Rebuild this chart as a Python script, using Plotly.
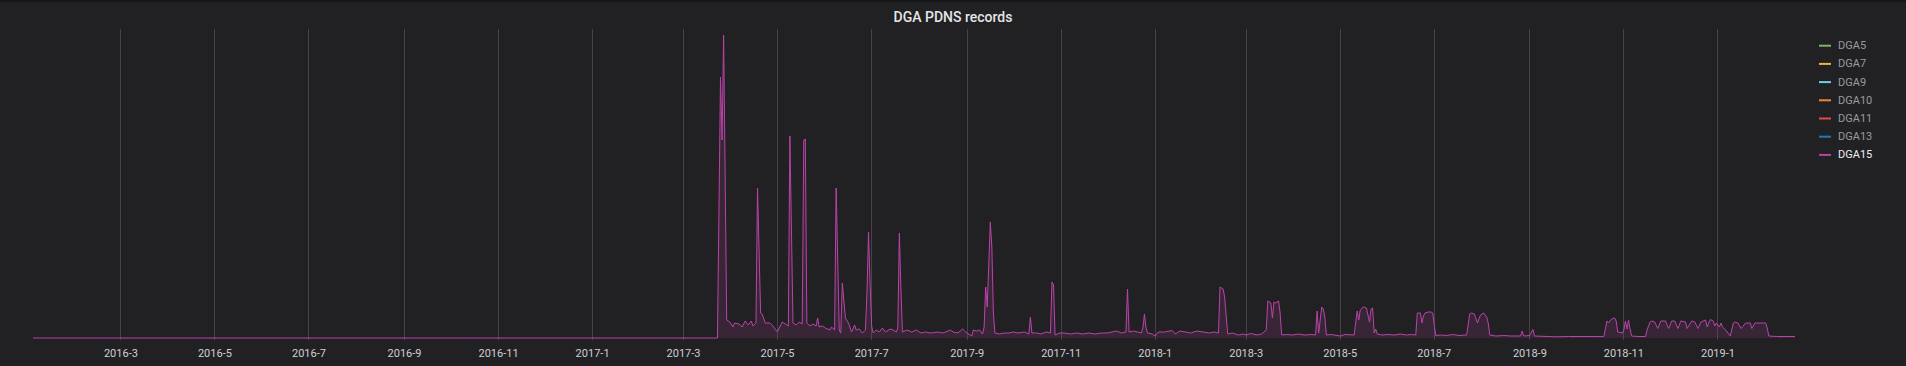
import plotly.graph_objects as go

# ---------------- data ----------------
dates = [
    "2016-01-04", "2017-03-23",
    "2017-03-25", "2017-03-26", "2017-03-27", "2017-03-29", "2017-03-31",
    "2017-04-02", "2017-04-03", "2017-04-06", "2017-04-08", "2017-04-10", "2017-04-12", "2017-04-14",
    "2017-04-15", "2017-04-17", "2017-04-18", "2017-04-20", "2017-04-21", "2017-04-23", "2017-04-26",
    "2017-04-28", "2017-04-30",
    "2017-05-01", "2017-05-04", "2017-05-07", "2017-05-08", "2017-05-09", "2017-05-11", "2017-05-13",
    "2017-05-15", "2017-05-17", "2017-05-18", "2017-05-19", "2017-05-20", "2017-05-22", "2017-05-24",
    "2017-05-26", "2017-05-27", "2017-05-28", "2017-05-30",
    "2017-06-01", "2017-06-04", "2017-06-05", "2017-06-07", "2017-06-08", "2017-06-10", "2017-06-11",
    "2017-06-12", "2017-06-14", "2017-06-16", "2017-06-18", "2017-06-20", "2017-06-21", "2017-06-23",
    "2017-06-25", "2017-06-27", "2017-06-28", "2017-06-29", "2017-06-30",
    "2017-07-01", "2017-07-02", "2017-07-04", "2017-07-06", "2017-07-08", "2017-07-10", "2017-07-13",
    "2017-07-15", "2017-07-17", "2017-07-18", "2017-07-19", "2017-07-20", "2017-07-21", "2017-07-24",
    "2017-07-27", "2017-07-30",
    "2017-08-02", "2017-08-05", "2017-08-08", "2017-08-13", "2017-08-16", "2017-08-18", "2017-08-21",
    "2017-08-23", "2017-08-26", "2017-08-29", "2017-08-31",
    "2017-09-04", "2017-09-05", "2017-09-07", "2017-09-09", "2017-09-11", "2017-09-12", "2017-09-13",
    "2017-09-14", "2017-09-16", "2017-09-17", "2017-09-18", "2017-09-19", "2017-09-22", "2017-09-25",
    "2017-09-28",
    "2017-10-01", "2017-10-04", "2017-10-08", "2017-10-11", "2017-10-12", "2017-10-13", "2017-10-16",
    "2017-10-19", "2017-10-22", "2017-10-25", "2017-10-26", "2017-10-27", "2017-10-28", "2017-10-31",
    "2017-11-03", "2017-11-07", "2017-11-11", "2017-11-15", "2017-11-19", "2017-11-23", "2017-11-27",
    "2017-12-01", "2017-12-04", "2017-12-07", "2017-12-10", "2017-12-13", "2017-12-14", "2017-12-15",
    "2017-12-18", "2017-12-20", "2017-12-23", "2017-12-24", "2017-12-25", "2017-12-26", "2017-12-27",
    "2017-12-30",
    "2018-01-01", "2018-01-03", "2018-01-07", "2018-01-12", "2018-01-14", "2018-01-17", "2018-01-20",
    "2018-01-24", "2018-01-28",
    "2018-02-01", "2018-02-05", "2018-02-08", "2018-02-11", "2018-02-12", "2018-02-13", "2018-02-14",
    "2018-02-15", "2018-02-16", "2018-02-17", "2018-02-20", "2018-02-24", "2018-02-27",
    "2018-03-01", "2018-03-04", "2018-03-08", "2018-03-11", "2018-03-14", "2018-03-15", "2018-03-17",
    "2018-03-18", "2018-03-19", "2018-03-20", "2018-03-22", "2018-03-23", "2018-03-24", "2018-03-27",
    "2018-03-31",
    "2018-04-04", "2018-04-08", "2018-04-12", "2018-04-15", "2018-04-16", "2018-04-17", "2018-04-19",
    "2018-04-20", "2018-04-21", "2018-04-22", "2018-04-25", "2018-04-29",
    "2018-05-01", "2018-05-04", "2018-05-07", "2018-05-10", "2018-05-12", "2018-05-13", "2018-05-14",
    "2018-05-16", "2018-05-18", "2018-05-20", "2018-05-21", "2018-05-22", "2018-05-23", "2018-05-24",
    "2018-05-25", "2018-05-28",
    "2018-06-01", "2018-06-05", "2018-06-09", "2018-06-13", "2018-06-16", "2018-06-19", "2018-06-20",
    "2018-06-22", "2018-06-23", "2018-06-24", "2018-06-25", "2018-06-27", "2018-06-29", "2018-06-30",
    "2018-07-01", "2018-07-02", "2018-07-05", "2018-07-09", "2018-07-13", "2018-07-17", "2018-07-22",
    "2018-07-24", "2018-07-25", "2018-07-27", "2018-07-29", "2018-07-31",
    "2018-08-02", "2018-08-04", "2018-08-05", "2018-08-06", "2018-08-10", "2018-08-15", "2018-08-20",
    "2018-08-26", "2018-08-27", "2018-08-28",
    "2018-09-01", "2018-09-03", "2018-09-04", "2018-09-10", "2018-09-18", "2018-09-26",
    "2018-10-04", "2018-10-12", "2018-10-19", "2018-10-20", "2018-10-21", "2018-10-22", "2018-10-24",
    "2018-10-26", "2018-10-27", "2018-10-28", "2018-10-31",
    "2018-11-01", "2018-11-02", "2018-11-03", "2018-11-04", "2018-11-05", "2018-11-06", "2018-11-10",
    "2018-11-15", "2018-11-16", "2018-11-18", "2018-11-19", "2018-11-21", "2018-11-23", "2018-11-25",
    "2018-11-28", "2018-11-30",
    "2018-12-02", "2018-12-04", "2018-12-06", "2018-12-08", "2018-12-11", "2018-12-12", "2018-12-15",
    "2018-12-17", "2018-12-19", "2018-12-21", "2018-12-24", "2018-12-25", "2018-12-27", "2018-12-29",
    "2018-12-30", "2018-12-31",
    "2019-01-02", "2019-01-03", "2019-01-04", "2019-01-06", "2019-01-09", "2019-01-11", "2019-01-12",
    "2019-01-14", "2019-01-16", "2019-01-19", "2019-01-22", "2019-01-23", "2019-01-25", "2019-01-28",
    "2019-02-01", "2019-02-02", "2019-02-03", "2019-02-08", "2019-02-14", "2019-02-20",
]

dga15_records = [
    0, 0,
    2610, 1980, 3030, 180, 160,
    110, 150, 140, 110, 170, 130, 170,
    120, 150, 1500, 250, 240, 150, 150,
    120, 75,
    65, 160, 130, 120, 2020, 150, 130,
    160, 140, 1980, 1990, 150, 120, 140,
    120, 200, 110, 120,
    100, 80, 110, 80, 1500, 80, 50,
    550, 200, 150, 60, 130, 80, 90,
    50, 80, 450, 1060, 550,
    120, 50, 80, 60, 100, 60, 90,
    80, 60, 100, 1050, 500, 60, 80,
    60, 80,
    50, 60, 50, 60, 50, 60, 80,
    60, 50, 90, 60,
    20, 80, 70, 80, 40, 110, 510,
    310, 1160, 910, 250, 50, 40, 50,
    50,
    60, 50, 60, 40, 210, 50, 50,
    40, 60, 50, 560, 530, 30, 50,
    50, 40, 50, 40, 50, 40, 50,
    50, 60, 70, 50, 60, 490, 60,
    70, 60, 50, 100, 240, 100, 50,
    40,
    20, 60, 60, 75, 40, 70, 60,
    50, 70,
    60, 50, 60, 50, 510, 500, 490,
    410, 200, 40, 50, 30, 40,
    30, 45, 30, 40, 80, 370, 350,
    200, 360, 350, 370, 250, 30, 35,
    30,
    40, 30, 35, 30, 270, 50, 310,
    290, 210, 30, 35, 30,
    20, 35, 30, 30, 270, 180, 280,
    310, 300, 160, 290, 300, 50, 90,
    40, 30,
    35, 30, 40, 30, 35, 30, 250,
    250, 150, 220, 250, 260, 260, 250,
    130, 25, 30, 25, 35, 25, 30,
    240, 250, 240, 150, 230,
    250, 210, 150, 30, 20, 25, 20,
    20, 70, 20,
    25, 85, 20, 15, 12, 15,
    12, 15, 15, 90, 170, 150, 190,
    200, 170, 60, 50,
    80, 170, 90, 180, 90, 20, 15,
    15, 80, 160, 170, 160, 95, 170,
    170, 95,
    170, 170, 95, 170, 160, 95, 170,
    160, 95, 160, 180, 110, 185, 170,
    120, 150,
    110, 150, 110, 80, 20, 150, 160,
    150, 95, 150, 150, 95, 150, 150,
    150, 100, 20, 15, 18, 15,
]

series_names = ["DGA5", "DGA7", "DGA9", "DGA10", "DGA11", "DGA13", "DGA15"]
series_colors = ["#7EB26D", "#EAB839", "#6ED0E0", "#EF843C", "#E24D42", "#1F78C1", "#BA43A9"]
series_shown = [False, False, False, False, False, False, True]

tick_vals = ["2016-03-01", "2016-05-01", "2016-07-01", "2016-09-01", "2016-11-01",
             "2017-01-01", "2017-03-01", "2017-05-01", "2017-07-01", "2017-09-01",
             "2017-11-01", "2018-01-01", "2018-03-01", "2018-05-01", "2018-07-01",
             "2018-09-01", "2018-11-01", "2019-01-01"]
tick_text = ["2016-3", "2016-5", "2016-7", "2016-9", "2016-11",
             "2017-1", "2017-3", "2017-5", "2017-7", "2017-9",
             "2017-11", "2018-1", "2018-3", "2018-5", "2018-7",
             "2018-9", "2018-11", "2019-1"]

x_range = ["2016-01-04", "2019-02-20"]
y_range = [-20, 3090]

# ---------------- layout geometry ----------------
W, H = 1906, 366
L, R, T, B = 33, 111, 29, 26
PW = W - L - R
PH = H - T - B

BG = "#212124"
FONT = "Roboto, 'Open Sans', sans-serif"


def px_x(x):
    return (x - L) / PW


def px_y(y):
    return (T + PH - y) / PH


fig = go.Figure()
fig.add_trace(go.Scatter(
    x=dates, y=dga15_records, mode="lines", name="DGA15",
    line=dict(color=series_colors[-1], width=1),
    fill="tozeroy", fillcolor="rgba(186,67,169,0.15)",
    showlegend=False, hoverinfo="skip",
))

shapes = [
    dict(type="rect", xref="paper", yref="paper",
         x0=px_x(0), x1=px_x(W), y0=px_y(2), y1=px_y(0),
         fillcolor="#161719", line=dict(width=0), layer="below"),
]
annotations = []
for i, (name, color, shown) in enumerate(zip(series_names, series_colors, series_shown)):
    yc = 45.7 + i * 18.2
    shapes.append(dict(type="line", xref="paper", yref="paper",
                       x0=px_x(1819), x1=px_x(1831), y0=px_y(yc), y1=px_y(yc),
                       line=dict(color=color, width=2)))
    annotations.append(dict(xref="paper", yref="paper", x=px_x(1836), y=px_y(yc),
                            xanchor="left", yanchor="middle", showarrow=False,
                            text=name,
                            font=dict(family=FONT, size=11,
                                      color="#eceff3" if shown else "#9a9b9d")))

fig.update_layout(
    width=W, height=H,
    margin=dict(l=L, r=R, t=T, b=B),
    paper_bgcolor=BG, plot_bgcolor=BG,
    title=dict(text="DGA PDNS records", x=0.5, xanchor="center",
               xref="container", yref="container", y=1 - 17 / H, yanchor="middle",
               font=dict(family=FONT, size=14, color="#e4e5e6", weight=500)),
    xaxis=dict(type="date", range=x_range, tickvals=tick_vals, ticktext=tick_text,
               showgrid=True, gridcolor="#444447", gridwidth=1, automargin=False,
               zeroline=False, showline=False, ticks="", ticklabelstandoff=5,
               tickfont=dict(family=FONT, size=11, color="#cfd0d2")),
    yaxis=dict(range=y_range, showgrid=False, zeroline=False, showline=False,
               showticklabels=False, ticks="", automargin=False),
    shapes=shapes, annotations=annotations,
    showlegend=False,
)

fig.write_html(
    "out.html",
    config={"displayModeBar": False},
    post_script="document.body.style.margin='0';document.body.style.padding='0';"
                "document.body.style.background='#212124';"
                "document.documentElement.style.background='#212124';",
)
